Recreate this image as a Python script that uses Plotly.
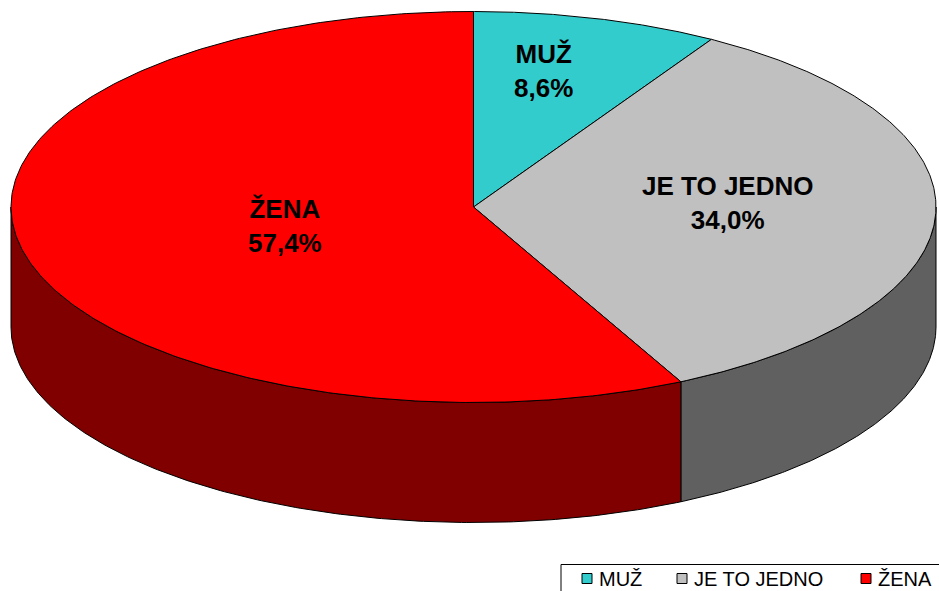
import numpy as np
import plotly.graph_objects as go

# Survey answers and their shares (%)
categories = ["MUŽ", "JE TO JEDNO", "ŽENA"]
shares = [8.6, 34.0, 57.4]

top_colors = ["#33CCCC", "#C0C0C0", "#FF0000"]
side_colors = ["#1A6666", "#606060", "#800000"]

# Pie geometry in pixel space (ellipse centre, radii, thickness)
W, H = 939, 591
CX, CY, RX, RY, DEPTH = 473.5, 207.0, 462.5, 195.5, 120.0


def ellipse_xy(theta_deg, drop=0.0):
    """Point on the rim; angle measured clockwise from 12 o'clock."""
    t = np.radians(theta_deg)
    return CX + RX * np.sin(t), CY - RY * np.cos(t) + drop


total = sum(shares)
bounds = np.concatenate([[0.0], np.cumsum(shares) / total * 360.0])

fig = go.Figure()

# Front walls (visible between 90 and 270 degrees)
for i, name in enumerate(categories):
    lo, hi = max(bounds[i], 90.0), min(bounds[i + 1], 270.0)
    if lo >= hi:
        continue
    th = np.linspace(lo, hi, 200)
    xt, yt = ellipse_xy(th)
    xb, yb = ellipse_xy(th[::-1], DEPTH)
    xs = np.concatenate([xt, xb, xt[:1]])
    ys = np.concatenate([yt, yb, yt[:1]])
    fig.add_trace(go.Scatter(
        x=xs, y=ys, mode="lines", fill="toself",
        fillcolor=side_colors[i], line=dict(color="black", width=1),
        hoverinfo="skip", showlegend=False))

# Top faces of the slices
for i, name in enumerate(categories):
    th = np.linspace(bounds[i], bounds[i + 1], 300)
    xa, ya = ellipse_xy(th)
    xs = np.concatenate([[CX], xa, [CX]])
    ys = np.concatenate([[CY], ya, [CY]])
    fig.add_trace(go.Scatter(
        x=xs, y=ys, mode="lines", fill="toself",
        fillcolor=top_colors[i], line=dict(color="black", width=1),
        name=name, hoverinfo="skip", showlegend=False))

# Slice labels
label_pos = [(543, 71), (727, 203), (285, 226)]
annotations = []
for name, v, (lx, ly) in zip(categories, shares, label_pos):
    annotations.append(dict(
        x=lx, y=ly, xref="x", yref="y", showarrow=False,
        text=f"<b>{name}<br>{v:.1f}%</b>".replace(".", ","),
        font=dict(family="Liberation Sans, Arial, sans-serif", size=26, color="black"),
        xanchor="center", yanchor="middle", align="center"))

# Legend box along the bottom-right edge
shapes = [dict(type="rect", xref="x", yref="y", x0=561, x1=945, y0=564.5, y1=600,
               line=dict(color="black", width=1), fillcolor="white", layer="above")]
legend_x = [582, 677, 861]
for name, col, sx in zip(categories, top_colors, legend_x):
    shapes.append(dict(type="rect", xref="x", yref="y", x0=sx, x1=sx + 10,
                       y0=573.5, y1=583.5, fillcolor=col,
                       line=dict(color="black", width=1), layer="above"))
    annotations.append(dict(
        x=sx + 15, y=579, xref="x", yref="y", showarrow=False, text=name,
        font=dict(family="Liberation Sans, Arial, sans-serif", size=20, color="black"),
        xanchor="left", yanchor="middle"))

fig.update_layout(
    width=W, height=H, autosize=False,
    margin=dict(l=0, r=0, t=0, b=0),
    paper_bgcolor="white", plot_bgcolor="white",
    xaxis=dict(range=[0, W], visible=False, fixedrange=True),
    yaxis=dict(range=[H, 0], visible=False, fixedrange=True),
    shapes=shapes, annotations=annotations, showlegend=False)

fig.write_html("out.html")
